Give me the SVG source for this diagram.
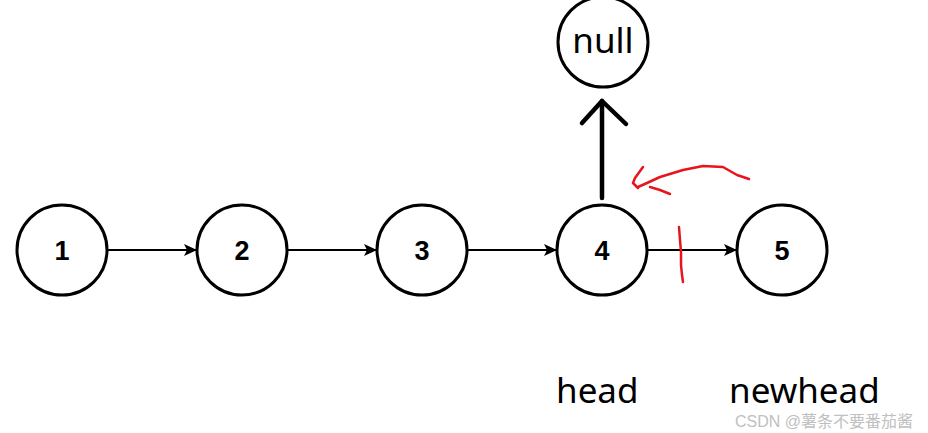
<svg xmlns="http://www.w3.org/2000/svg" width="928" height="433" viewBox="0 0 928 433">
<style>
.node circle{fill:#fff;stroke:#000;stroke-width:3}
.num{font-family:"Liberation Sans",Arial,sans-serif;font-weight:bold;font-size:27px;text-anchor:middle}
.lbl{font-family:"Noto Sans",sans-serif;font-size:35px;fill:#000}
.edge{stroke:#000;stroke-width:2;fill:none}
.red{stroke:#e8141c;stroke-width:2.5;fill:none;stroke-linecap:round;stroke-linejoin:round}
</style>
<defs>
<marker id="ah" markerWidth="14" markerHeight="12" refX="13" refY="6" orient="auto" markerUnits="userSpaceOnUse">
<path d="M0,0 L13,6 L0,12 L3,6 Z" fill="#000"/>
</marker>
</defs>
<rect width="928" height="433" fill="#fff"/>
<g id="connectors">
<line class="edge" x1="107" y1="250" x2="197" y2="250" marker-end="url(#ah)"/>
<line class="edge" x1="287" y1="250" x2="377" y2="250" marker-end="url(#ah)"/>
<line class="edge" x1="467" y1="250" x2="557" y2="250" marker-end="url(#ah)"/>
<line class="edge" x1="647" y1="250" x2="737" y2="250" marker-end="url(#ah)"/>
<g id="up-arrow" stroke="#000" stroke-width="4.5" fill="none" stroke-linecap="round" stroke-linejoin="round">
<line x1="602" y1="198" x2="602" y2="101"/>
<polyline points="582,123 602,101 626,124"/>
</g>
</g>
<g id="node1" class="node"><circle cx="62" cy="250" r="45"/><text class="num" x="62" y="259.5">1</text></g>
<g id="node2" class="node"><circle cx="242" cy="250" r="45"/><text class="num" x="242" y="259.5">2</text></g>
<g id="node3" class="node"><circle cx="422" cy="250" r="45"/><text class="num" x="422" y="259.5">3</text></g>
<g id="node4" class="node"><circle cx="602" cy="250" r="45"/><text class="num" x="602" y="259.5">4</text></g>
<g id="node5" class="node"><circle cx="782" cy="250" r="45"/><text class="num" x="782" y="259.5">5</text></g>
<g id="null" class="node"><circle cx="603" cy="42" r="45"/><text class="lbl" x="603" y="53" text-anchor="middle">null</text></g>
<g id="annotations">
<path class="red" d="M749,179 L743,177 L737,175 L723,167 L703,166 L683,170 L660,177 L647,183 L638,187"/>
<path class="red" d="M643,167 L635,178 L633,183 L638,188"/>
<path class="red" d="M650,187 L660,190 L670,194"/>
<path class="red" d="M679,227 L680,240 L681,252 L681,265 L682,275 L683,282"/>
</g>
<text class="lbl" x="556" y="403">head</text>
<text class="lbl" x="729" y="403">newhead</text>
<text x="735" y="427" font-family="'Liberation Sans','Noto Sans CJK SC',sans-serif" font-size="16" fill="#c0c0c0">CSDN @薯条不要番茄酱</text>
</svg>
